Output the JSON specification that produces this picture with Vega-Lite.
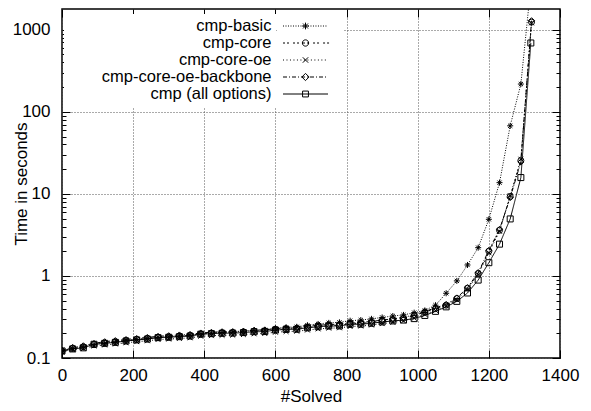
{
  "$schema": "https://vega.github.io/schema/vega-lite/v6.json",
  "width": 498,
  "height": 349,
  "autosize": "none",
  "padding": {"left": 62, "top": 9, "right": 31, "bottom": 53},
  "background": "white",
  "config": {
    "font": "Liberation Sans",
    "view": {"stroke": "black", "strokeWidth": 1.5},
    "axis": {"labelFont": "Liberation Sans", "labelFontSize": 17, "titleFont": "Liberation Sans", "titleFontSize": 17, "titleFontWeight": "normal", "labelColor": "black", "titleColor": "black", "tickColor": "black", "tickWidth": 1, "domain": false}
  },
  "data": {"values": [
    {"solver":"cmp (all options)","solved":0,"time":0.122},{"solver":"cmp (all options)","solved":30,"time":0.129},{"solver":"cmp (all options)","solved":60,"time":0.133},{"solver":"cmp (all options)","solved":90,"time":0.147},{"solver":"cmp (all options)","solved":120,"time":0.151},{"solver":"cmp (all options)","solved":150,"time":0.155},{"solver":"cmp (all options)","solved":180,"time":0.161},{"solver":"cmp (all options)","solved":210,"time":0.166},{"solver":"cmp (all options)","solved":240,"time":0.170},{"solver":"cmp (all options)","solved":270,"time":0.177},{"solver":"cmp (all options)","solved":300,"time":0.179},{"solver":"cmp (all options)","solved":330,"time":0.182},{"solver":"cmp (all options)","solved":360,"time":0.185},{"solver":"cmp (all options)","solved":390,"time":0.195},{"solver":"cmp (all options)","solved":420,"time":0.198},{"solver":"cmp (all options)","solved":450,"time":0.200},{"solver":"cmp (all options)","solved":480,"time":0.201},{"solver":"cmp (all options)","solved":510,"time":0.204},{"solver":"cmp (all options)","solved":540,"time":0.209},{"solver":"cmp (all options)","solved":570,"time":0.210},{"solver":"cmp (all options)","solved":600,"time":0.219},{"solver":"cmp (all options)","solved":630,"time":0.223},{"solver":"cmp (all options)","solved":660,"time":0.224},{"solver":"cmp (all options)","solved":690,"time":0.233},{"solver":"cmp (all options)","solved":720,"time":0.240},{"solver":"cmp (all options)","solved":750,"time":0.245},{"solver":"cmp (all options)","solved":780,"time":0.246},{"solver":"cmp (all options)","solved":810,"time":0.257},{"solver":"cmp (all options)","solved":840,"time":0.258},{"solver":"cmp (all options)","solved":870,"time":0.265},{"solver":"cmp (all options)","solved":900,"time":0.275},{"solver":"cmp (all options)","solved":930,"time":0.283},{"solver":"cmp (all options)","solved":960,"time":0.290},{"solver":"cmp (all options)","solved":990,"time":0.302},{"solver":"cmp (all options)","solved":1020,"time":0.33},{"solver":"cmp (all options)","solved":1050,"time":0.37},{"solver":"cmp (all options)","solved":1080,"time":0.42},{"solver":"cmp (all options)","solved":1110,"time":0.49},{"solver":"cmp (all options)","solved":1140,"time":0.62},{"solver":"cmp (all options)","solved":1170,"time":0.89},{"solver":"cmp (all options)","solved":1200,"time":1.45},{"solver":"cmp (all options)","solved":1230,"time":2.44},{"solver":"cmp (all options)","solved":1260,"time":4.95},{"solver":"cmp (all options)","solved":1290,"time":15.8},{"solver":"cmp (all options)","solved":1318,"time":690},
    {"solver":"cmp-core","solved":0,"time":0.121},{"solver":"cmp-core","solved":30,"time":0.131},{"solver":"cmp-core","solved":60,"time":0.137},{"solver":"cmp-core","solved":90,"time":0.146},{"solver":"cmp-core","solved":120,"time":0.153},{"solver":"cmp-core","solved":150,"time":0.158},{"solver":"cmp-core","solved":180,"time":0.163},{"solver":"cmp-core","solved":210,"time":0.168},{"solver":"cmp-core","solved":240,"time":0.173},{"solver":"cmp-core","solved":270,"time":0.178},{"solver":"cmp-core","solved":300,"time":0.181},{"solver":"cmp-core","solved":330,"time":0.185},{"solver":"cmp-core","solved":360,"time":0.188},{"solver":"cmp-core","solved":390,"time":0.196},{"solver":"cmp-core","solved":420,"time":0.200},{"solver":"cmp-core","solved":450,"time":0.203},{"solver":"cmp-core","solved":480,"time":0.204},{"solver":"cmp-core","solved":510,"time":0.207},{"solver":"cmp-core","solved":540,"time":0.211},{"solver":"cmp-core","solved":570,"time":0.214},{"solver":"cmp-core","solved":600,"time":0.221},{"solver":"cmp-core","solved":630,"time":0.226},{"solver":"cmp-core","solved":660,"time":0.228},{"solver":"cmp-core","solved":690,"time":0.236},{"solver":"cmp-core","solved":720,"time":0.243},{"solver":"cmp-core","solved":750,"time":0.248},{"solver":"cmp-core","solved":780,"time":0.251},{"solver":"cmp-core","solved":810,"time":0.261},{"solver":"cmp-core","solved":840,"time":0.264},{"solver":"cmp-core","solved":870,"time":0.271},{"solver":"cmp-core","solved":900,"time":0.282},{"solver":"cmp-core","solved":930,"time":0.292},{"solver":"cmp-core","solved":960,"time":0.305},{"solver":"cmp-core","solved":990,"time":0.330},{"solver":"cmp-core","solved":1020,"time":0.362},{"solver":"cmp-core","solved":1050,"time":0.40},{"solver":"cmp-core","solved":1080,"time":0.44},{"solver":"cmp-core","solved":1110,"time":0.53},{"solver":"cmp-core","solved":1140,"time":0.71},{"solver":"cmp-core","solved":1170,"time":1.07},{"solver":"cmp-core","solved":1200,"time":2.0},{"solver":"cmp-core","solved":1230,"time":3.6},{"solver":"cmp-core","solved":1260,"time":9.3},{"solver":"cmp-core","solved":1290,"time":25.5},{"solver":"cmp-core","solved":1320,"time":1240},
    {"solver":"cmp-core-oe","solved":0,"time":0.118},{"solver":"cmp-core-oe","solved":30,"time":0.126},{"solver":"cmp-core-oe","solved":60,"time":0.130},{"solver":"cmp-core-oe","solved":90,"time":0.140},{"solver":"cmp-core-oe","solved":120,"time":0.144},{"solver":"cmp-core-oe","solved":150,"time":0.148},{"solver":"cmp-core-oe","solved":180,"time":0.153},{"solver":"cmp-core-oe","solved":210,"time":0.158},{"solver":"cmp-core-oe","solved":240,"time":0.162},{"solver":"cmp-core-oe","solved":270,"time":0.168},{"solver":"cmp-core-oe","solved":300,"time":0.170},{"solver":"cmp-core-oe","solved":330,"time":0.173},{"solver":"cmp-core-oe","solved":360,"time":0.176},{"solver":"cmp-core-oe","solved":390,"time":0.184},{"solver":"cmp-core-oe","solved":420,"time":0.187},{"solver":"cmp-core-oe","solved":450,"time":0.189},{"solver":"cmp-core-oe","solved":480,"time":0.190},{"solver":"cmp-core-oe","solved":510,"time":0.193},{"solver":"cmp-core-oe","solved":540,"time":0.197},{"solver":"cmp-core-oe","solved":570,"time":0.199},{"solver":"cmp-core-oe","solved":600,"time":0.206},{"solver":"cmp-core-oe","solved":630,"time":0.210},{"solver":"cmp-core-oe","solved":660,"time":0.212},{"solver":"cmp-core-oe","solved":690,"time":0.219},{"solver":"cmp-core-oe","solved":720,"time":0.226},{"solver":"cmp-core-oe","solved":750,"time":0.231},{"solver":"cmp-core-oe","solved":780,"time":0.233},{"solver":"cmp-core-oe","solved":810,"time":0.242},{"solver":"cmp-core-oe","solved":840,"time":0.245},{"solver":"cmp-core-oe","solved":870,"time":0.252},{"solver":"cmp-core-oe","solved":900,"time":0.262},{"solver":"cmp-core-oe","solved":930,"time":0.272},{"solver":"cmp-core-oe","solved":960,"time":0.283},{"solver":"cmp-core-oe","solved":990,"time":0.305},{"solver":"cmp-core-oe","solved":1020,"time":0.34},{"solver":"cmp-core-oe","solved":1050,"time":0.38},{"solver":"cmp-core-oe","solved":1080,"time":0.43},{"solver":"cmp-core-oe","solved":1110,"time":0.51},{"solver":"cmp-core-oe","solved":1140,"time":0.69},{"solver":"cmp-core-oe","solved":1170,"time":1.04},{"solver":"cmp-core-oe","solved":1200,"time":1.92},{"solver":"cmp-core-oe","solved":1230,"time":3.5},{"solver":"cmp-core-oe","solved":1260,"time":9.5},{"solver":"cmp-core-oe","solved":1290,"time":26.5},{"solver":"cmp-core-oe","solved":1320,"time":1210},
    {"solver":"cmp-core-oe-backbone","solved":0,"time":0.125},{"solver":"cmp-core-oe-backbone","solved":30,"time":0.135},{"solver":"cmp-core-oe-backbone","solved":60,"time":0.141},{"solver":"cmp-core-oe-backbone","solved":90,"time":0.151},{"solver":"cmp-core-oe-backbone","solved":120,"time":0.158},{"solver":"cmp-core-oe-backbone","solved":150,"time":0.163},{"solver":"cmp-core-oe-backbone","solved":180,"time":0.168},{"solver":"cmp-core-oe-backbone","solved":210,"time":0.173},{"solver":"cmp-core-oe-backbone","solved":240,"time":0.178},{"solver":"cmp-core-oe-backbone","solved":270,"time":0.184},{"solver":"cmp-core-oe-backbone","solved":300,"time":0.187},{"solver":"cmp-core-oe-backbone","solved":330,"time":0.191},{"solver":"cmp-core-oe-backbone","solved":360,"time":0.194},{"solver":"cmp-core-oe-backbone","solved":390,"time":0.202},{"solver":"cmp-core-oe-backbone","solved":420,"time":0.206},{"solver":"cmp-core-oe-backbone","solved":450,"time":0.209},{"solver":"cmp-core-oe-backbone","solved":480,"time":0.210},{"solver":"cmp-core-oe-backbone","solved":510,"time":0.213},{"solver":"cmp-core-oe-backbone","solved":540,"time":0.218},{"solver":"cmp-core-oe-backbone","solved":570,"time":0.220},{"solver":"cmp-core-oe-backbone","solved":600,"time":0.228},{"solver":"cmp-core-oe-backbone","solved":630,"time":0.233},{"solver":"cmp-core-oe-backbone","solved":660,"time":0.235},{"solver":"cmp-core-oe-backbone","solved":690,"time":0.243},{"solver":"cmp-core-oe-backbone","solved":720,"time":0.250},{"solver":"cmp-core-oe-backbone","solved":750,"time":0.256},{"solver":"cmp-core-oe-backbone","solved":780,"time":0.258},{"solver":"cmp-core-oe-backbone","solved":810,"time":0.268},{"solver":"cmp-core-oe-backbone","solved":840,"time":0.271},{"solver":"cmp-core-oe-backbone","solved":870,"time":0.279},{"solver":"cmp-core-oe-backbone","solved":900,"time":0.290},{"solver":"cmp-core-oe-backbone","solved":930,"time":0.300},{"solver":"cmp-core-oe-backbone","solved":960,"time":0.312},{"solver":"cmp-core-oe-backbone","solved":990,"time":0.336},{"solver":"cmp-core-oe-backbone","solved":1020,"time":0.368},{"solver":"cmp-core-oe-backbone","solved":1050,"time":0.41},{"solver":"cmp-core-oe-backbone","solved":1080,"time":0.45},{"solver":"cmp-core-oe-backbone","solved":1110,"time":0.54},{"solver":"cmp-core-oe-backbone","solved":1140,"time":0.72},{"solver":"cmp-core-oe-backbone","solved":1170,"time":1.10},{"solver":"cmp-core-oe-backbone","solved":1200,"time":2.05},{"solver":"cmp-core-oe-backbone","solved":1230,"time":3.7},{"solver":"cmp-core-oe-backbone","solved":1260,"time":9.0},{"solver":"cmp-core-oe-backbone","solved":1290,"time":24.5},{"solver":"cmp-core-oe-backbone","solved":1320,"time":1290},
    {"solver":"cmp-basic","solved":0,"time":0.121},{"solver":"cmp-basic","solved":30,"time":0.130},{"solver":"cmp-basic","solved":60,"time":0.136},{"solver":"cmp-basic","solved":90,"time":0.146},{"solver":"cmp-basic","solved":120,"time":0.152},{"solver":"cmp-basic","solved":150,"time":0.157},{"solver":"cmp-basic","solved":180,"time":0.163},{"solver":"cmp-basic","solved":210,"time":0.168},{"solver":"cmp-basic","solved":240,"time":0.173},{"solver":"cmp-basic","solved":270,"time":0.179},{"solver":"cmp-basic","solved":300,"time":0.182},{"solver":"cmp-basic","solved":330,"time":0.186},{"solver":"cmp-basic","solved":360,"time":0.189},{"solver":"cmp-basic","solved":390,"time":0.198},{"solver":"cmp-basic","solved":420,"time":0.202},{"solver":"cmp-basic","solved":450,"time":0.205},{"solver":"cmp-basic","solved":480,"time":0.207},{"solver":"cmp-basic","solved":510,"time":0.211},{"solver":"cmp-basic","solved":540,"time":0.217},{"solver":"cmp-basic","solved":570,"time":0.220},{"solver":"cmp-basic","solved":600,"time":0.230},{"solver":"cmp-basic","solved":630,"time":0.236},{"solver":"cmp-basic","solved":660,"time":0.240},{"solver":"cmp-basic","solved":690,"time":0.251},{"solver":"cmp-basic","solved":720,"time":0.260},{"solver":"cmp-basic","solved":750,"time":0.268},{"solver":"cmp-basic","solved":780,"time":0.272},{"solver":"cmp-basic","solved":810,"time":0.285},{"solver":"cmp-basic","solved":840,"time":0.290},{"solver":"cmp-basic","solved":870,"time":0.300},{"solver":"cmp-basic","solved":900,"time":0.312},{"solver":"cmp-basic","solved":930,"time":0.325},{"solver":"cmp-basic","solved":960,"time":0.335},{"solver":"cmp-basic","solved":990,"time":0.357},{"solver":"cmp-basic","solved":1020,"time":0.38},{"solver":"cmp-basic","solved":1050,"time":0.44},{"solver":"cmp-basic","solved":1080,"time":0.615},{"solver":"cmp-basic","solved":1110,"time":0.87},{"solver":"cmp-basic","solved":1140,"time":1.36},{"solver":"cmp-basic","solved":1170,"time":2.21},{"solver":"cmp-basic","solved":1200,"time":4.9},{"solver":"cmp-basic","solved":1230,"time":13.7},{"solver":"cmp-basic","solved":1260,"time":67.5},{"solver":"cmp-basic","solved":1290,"time":218},{"solver":"cmp-basic","solved":1316,"time":2800}
  ]},
  "resolve": {"axis": {"x": "independent", "y": "independent"}, "scale": {"shape": "independent"}},
  "layer": [
    {
      "mark": {"type": "line", "clip": true, "color": "black", "strokeWidth": 1},
      "encoding": {
        "x": {"field": "solved", "type": "quantitative", "scale": {"domain": [0, 1400], "nice": false, "zero": false},
          "axis": {"orient": "bottom", "values": [0,200,400,600,800,1000,1200,1400], "format": "d", "title": "#Solved", "titlePadding": 5, "grid": true, "gridColor": "#555", "gridDash": [1,2], "tickSize": -8, "labelPadding": 17, "labelFlush": false, "labelOverlap": false}},
        "y": {"field": "time", "type": "quantitative", "scale": {"type": "log", "domain": [0.1, 1790], "nice": false},
          "axis": {"orient": "left", "values": [0.1,0.2,0.3,0.4,0.5,0.6,0.7,0.8,0.9,1,2,3,4,5,6,7,8,9,10,20,30,40,50,60,70,80,90,100,200,300,400,500,600,700,800,900,1000],
            "format": "~g",
            "labelExpr": "datum.value == 0.1 || datum.value == 1 || datum.value == 10 || datum.value == 100 || datum.value == 1000 ? datum.label : ''",
            "labelOverlap": false,
            "title": "Time in seconds", "titlePadding": -18,
            "grid": true, "gridColor": "#555", "gridDash": [1,2],
            "gridOpacity": {"condition": {"test": "datum.value == 0.1 || datum.value == 1 || datum.value == 10 || datum.value == 100 || datum.value == 1000", "value": 1}, "value": 0},
            "tickSize": {"condition": {"test": "datum.value == 0.1 || datum.value == 1 || datum.value == 10 || datum.value == 100 || datum.value == 1000", "value": -8}, "value": -4},
            "labelPadding": 20}},
        "strokeDash": {"field": "solver", "type": "nominal", "legend": null,
          "scale": {"domain": ["cmp-basic","cmp-core","cmp-core-oe","cmp-core-oe-backbone","cmp (all options)"], "range": [[1,1.5],[2,2,2,4],[1,2.5],[4,2,1,2],[1,0]]}}
      }
    },
    {
      "mark": {"type": "point", "clip": true, "color": "black", "filled": false, "strokeWidth": 1, "size": 36, "opacity": 1},
      "encoding": {
        "x": {"field": "solved", "type": "quantitative",
          "axis": {"orient": "top", "values": [0,200,400,600,800,1000,1200,1400], "labels": false, "title": null, "grid": false, "tickSize": -8}},
        "y": {"field": "time", "type": "quantitative",
          "axis": {"orient": "right", "values": [0.1,0.2,0.3,0.4,0.5,0.6,0.7,0.8,0.9,1,2,3,4,5,6,7,8,9,10,20,30,40,50,60,70,80,90,100,200,300,400,500,600,700,800,900,1000], "labels": false, "title": null, "grid": false,
            "tickSize": {"condition": {"test": "datum.value == 0.1 || datum.value == 1 || datum.value == 10 || datum.value == 100 || datum.value == 1000", "value": -8}, "value": -4}}},
        "shape": {"field": "solver", "type": "nominal", "legend": null,
          "scale": {"domain": ["cmp-basic","cmp-core","cmp-core-oe","cmp-core-oe-backbone","cmp (all options)"],
            "range": ["M-1,0H1M0,-1V1M-0.7,-0.7L0.7,0.7M-0.7,0.7L0.7,-0.7", "circle", "M-0.8,-0.8L0.8,0.8M-0.8,0.8L0.8,-0.8", "diamond", "square"]}}
      }
    },
    {
      "data": {"values": []},
      "mark": {"type": "point", "color": "black", "filled": false, "strokeWidth": 1},
      "encoding": {
        "shape": {"field": "solver", "type": "nominal",
          "scale": {"domain": ["cmp-basic","cmp-core","cmp-core-oe","cmp-core-oe-backbone","cmp (all options)"]},
          "legend": {"title": null, "orient": "none", "legendX": 2, "legendY": 5, "padding": 4, "fillColor": "white", "clipHeight": 16, "rowPadding": -0.5, "symbolSize": 1, "symbolOpacity": 0, "symbolOffset": 0, "labelOffset": 187, "labelAlign": "right", "labelLimit": 400,
            "labelFont": "Liberation Sans", "labelFontSize": 16.5, "labelColor": "black"}
        }
      }
    },
    {
      "data": {"values": []},
      "mark": {"type": "point", "color": "black", "filled": false, "strokeWidth": 1},
      "encoding": {
        "shape": {"field": "solver", "type": "nominal",
          "scale": {"domain": ["cmp-basic","cmp-core","cmp-core-oe","cmp-core-oe-backbone","cmp (all options)"],
            "range": [
              "M-1,0h0.044m0.067,0h0.044m0.067,0h0.044m0.067,0h0.044m0.067,0h0.044m0.067,0h0.044m0.067,0h0.044m0.067,0h0.044m0.067,0h0.044m0.067,0h0.044m0.067,0h0.044m0.067,0h0.044m0.067,0h0.044m0.067,0h0.044m0.067,0h0.044m0.067,0h0.044m0.067,0h0.044m0.067,0h0.044M-0.15,0H0.15M0,-0.15V0.15M-0.11,-0.11L0.11,0.11M-0.11,0.11L0.11,-0.11",
              "M-1,0h0.089m0.089,0h0.089m0.178,0h0.089m0.089,0h0.089m0.178,0h0.089m0.089,0h0.089m0.178,0h0.089m0.089,0h0.089m0.178,0h0.089m0.089,0h0.089M0.14,0A0.14,0.14 0 1,1 -0.14,0A0.14,0.14 0 1,1 0.14,0Z",
              "M-1,0h0.044m0.111,0h0.044m0.111,0h0.044m0.111,0h0.044m0.111,0h0.044m0.111,0h0.044m0.111,0h0.044m0.111,0h0.044m0.111,0h0.044m0.111,0h0.044m0.111,0h0.044m0.111,0h0.044m0.111,0h0.044M-0.12,-0.12L0.12,0.12M-0.12,0.12L0.12,-0.12",
              "M-1,0h0.178m0.089,0h0.044m0.089,0h0.178m0.089,0h0.044m0.089,0h0.178m0.089,0h0.044m0.089,0h0.178m0.089,0h0.044m0.089,0h0.178m0.089,0h0.044M0,-0.16L0.16,0L0,0.16L-0.16,0Z",
              "M-1,0H1M-0.13,-0.13H0.13V0.13H-0.13Z"
            ]},
          "legend": {"title": null, "orient": "none", "legendX": 215, "legendY": 5, "padding": 4, "fillColor": "white", "clipHeight": 16, "rowPadding": -0.5, "symbolSize": 2025, "symbolOffset": 1.5, "labelOffset": 5, "labelAlign": "left", "labelExpr": "'.'", "labelOpacity": 0,
            "labelFont": "Liberation Sans", "labelFontSize": 16.5, "labelColor": "black", "symbolStrokeColor": "black", "symbolStrokeWidth": 1, "symbolFillColor": "transparent", "symbolOpacity": 1}
        }
      }
    }
  ]
}
